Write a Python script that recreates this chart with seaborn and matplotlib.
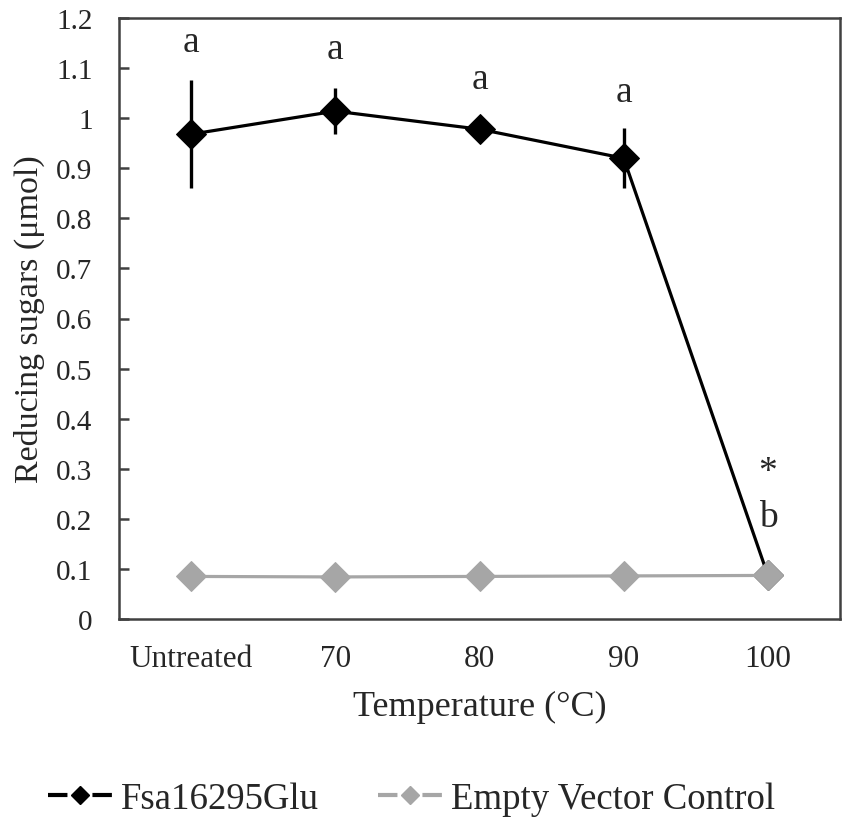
import matplotlib
matplotlib.use("Agg")
import matplotlib.pyplot as plt
from matplotlib.lines import Line2D
import seaborn as sns
import pandas as pd

# dados
temperaturas = ["Untreated", "70", "80", "90", "100"]
fsa_valores = [0.968, 1.014, 0.978, 0.920, 0.087]
fsa_erros = [0.108, 0.046, 0.02, 0.06, 0.0]
controle_valores = [0.085, 0.084, 0.085, 0.086, 0.087]
letras = ["a", "a", "a", "a", "b"]
letras_y = [1.152, 1.138, 1.078, 1.052, 0.204]
asterisco_y = 0.295
series = ["Fsa16295Glu", "Empty Vector Control"]

sns.set_style("ticks")
plt.rcParams["font.family"] = ["Liberation Serif", "DejaVu Serif"]
plt.rcParams["lines.scale_dashes"] = False

fig = plt.figure(figsize=(8.51, 8.29), dpi=100)
ax = fig.add_axes([119 / 851, 1 - 620 / 829, (840 - 119) / 851, (620 - 19) / 829])

df_fsa = pd.DataFrame({"temp": temperaturas, "valor": fsa_valores})
df_ctrl = pd.DataFrame({"temp": temperaturas, "valor": controle_valores})

preto = "black"
cinza = "#a6a6a6"
tam_marcador = 15.5

# barras de erro (sem caps, estilo Excel)
ax.errorbar(temperaturas, fsa_valores, yerr=fsa_erros, fmt="none",
            ecolor=preto, elinewidth=2.4, capsize=0, zorder=2)

sns.lineplot(data=df_fsa, x="temp", y="valor", sort=False, ax=ax,
             color=preto, linewidth=2.3, marker="D", markersize=tam_marcador,
             markeredgecolor=preto, legend=False, zorder=3)
sns.lineplot(data=df_ctrl, x="temp", y="valor", sort=False, ax=ax,
             color=cinza, linewidth=2.3, marker="D", markersize=tam_marcador,
             markeredgecolor=cinza, legend=False, zorder=4)

for i, (letra, y) in enumerate(zip(letras, letras_y)):
    ax.text(i, y, letra, ha="center", va="center", fontsize=27)
ax.text(len(temperaturas) - 1, asterisco_y, "*", ha="center", va="center", fontsize=27)

ax.set_xlim(-0.5, len(temperaturas) - 0.5)
ax.set_ylim(0, 1.2)
ax.set_yticks([i / 10 for i in range(13)])
ax.set_yticklabels(["0", "0.1", "0.2", "0.3", "0.4", "0.5", "0.6", "0.7",
                    "0.8", "0.9", "1", "1.1", "1.2"])

for lado in ["left", "right", "top", "bottom"]:
    ax.spines[lado].set_visible(True)
    ax.spines[lado].set_color("#404040")
    ax.spines[lado].set_linewidth(1.8)

ax.tick_params(axis="y", direction="in", length=7, width=1.8, color="#404040",
               labelsize=21, pad=19)
ax.tick_params(axis="x", length=0, labelsize=22.5, pad=18)

ax.set_xlabel("Temperature (°C)", fontsize=26, labelpad=12)
ax.set_ylabel("Reducing sugars (μmol)", fontsize=24.5, labelpad=8)

# legenda estilo Excel: traço - losango - traço
handles = [
    Line2D([], [], color=preto, linewidth=3, marker="D", markersize=9,
           dashes=(14, 18)),
    Line2D([], [], color=cinza, linewidth=3, marker="D", markersize=9,
           dashes=(14, 18)),
]
fig.legend(handles, series, loc="center left", bbox_to_anchor=(33 / 851, 1 - 800 / 829),
           ncol=2, frameon=False, fontsize=26.5, handlelength=1.74,
           handletextpad=0.25, columnspacing=1.6, borderaxespad=0)

plt.savefig("out.png", dpi=100)
